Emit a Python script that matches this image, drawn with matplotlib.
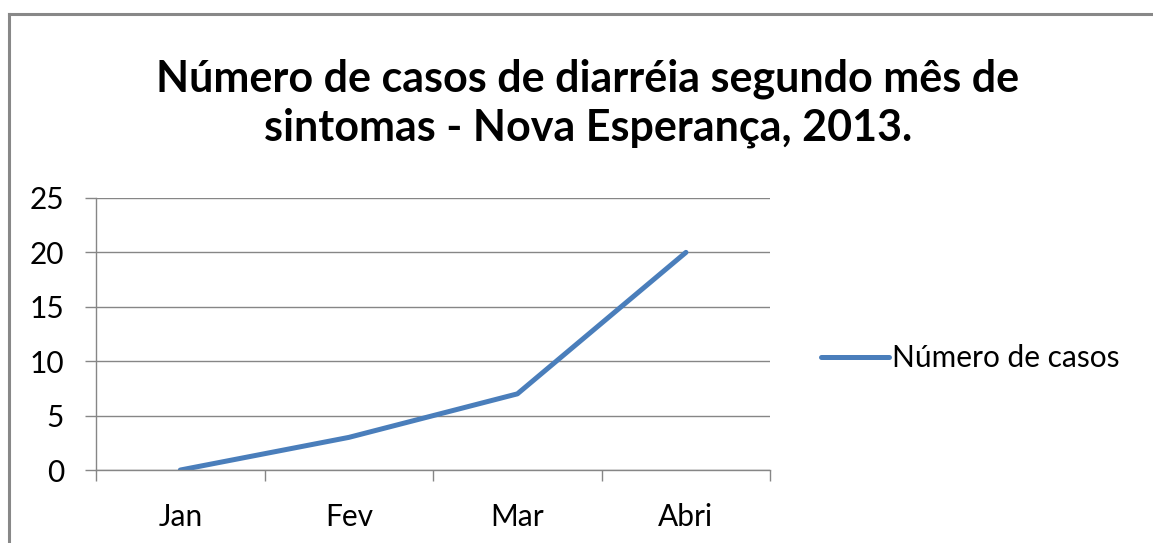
import matplotlib
matplotlib.use("Agg")
import matplotlib.pyplot as plt
from matplotlib.lines import Line2D
import numpy as np

months = ["Jan", "Fev", "Mar", "Abri"]
casos = [0, 3, 7, 20]
y_ticks = [0, 5, 10, 15, 20, 25]

plt.rcParams['font.family'] = ['Lato', 'DejaVu Sans']

fig = plt.figure(figsize=(11.53, 5.43), dpi=100)
ax = fig.add_axes([0.0833, 0.1344, 0.668 - 0.0833, 0.6354 - 0.1344])

x = np.arange(len(months))
ax.plot(x, casos, color="#4A7EBB", linewidth=3.6, solid_capstyle='round',
        label="Número de casos")

# axes and grid
ax.set_xlim(-0.5, len(months) - 0.5)
ax.set_ylim(0, 25)
ax.set_yticks(y_ticks)
ax.set_yticklabels([str(v) for v in y_ticks])
ax.grid(axis='y', color="#868686", linewidth=1)
ax.set_axisbelow(True)
for s in ["top", "right"]:
    ax.spines[s].set_visible(False)
for s in ["left", "bottom"]:
    ax.spines[s].set_color("#868686")
    ax.spines[s].set_linewidth(1)

ax.set_xticks(x)
ax.set_xticklabels(months)
ax.set_xticks(np.arange(-0.5, len(months)), minor=True)
ax.tick_params(axis='x', which='major', length=0, pad=24, labelsize=21.5, colors="#000000")
ax.tick_params(axis='x', which='minor', length=8, color="#868686", width=1)
ax.tick_params(axis='y', length=8, color="#868686", width=1, pad=15, labelsize=21.5)

# title
fig.text(0.51, 0.81, "Número de casos de diarréia segundo mês de\nsintomas - Nova Esperança, 2013.",
         ha='center', va='center', fontsize=31, fontweight='bold', linespacing=1.25)

# legend
ax.legend(loc='center left', bbox_to_anchor=(1.075, 0.41), frameon=False, fontsize=21.5,
          handlelength=2.3, handletextpad=0.1, borderaxespad=0, borderpad=0)

# chart border (top and left only visible)
fig.add_artist(Line2D([9/1153, 9/1153], [0, 1 - 14/543], color="#888888", linewidth=2.2,
                      transform=fig.transFigure))
fig.add_artist(Line2D([9/1153, 1], [1 - 14/543, 1 - 14/543], color="#888888", linewidth=2.2,
                      transform=fig.transFigure))

fig.savefig("out.png", dpi=100)
